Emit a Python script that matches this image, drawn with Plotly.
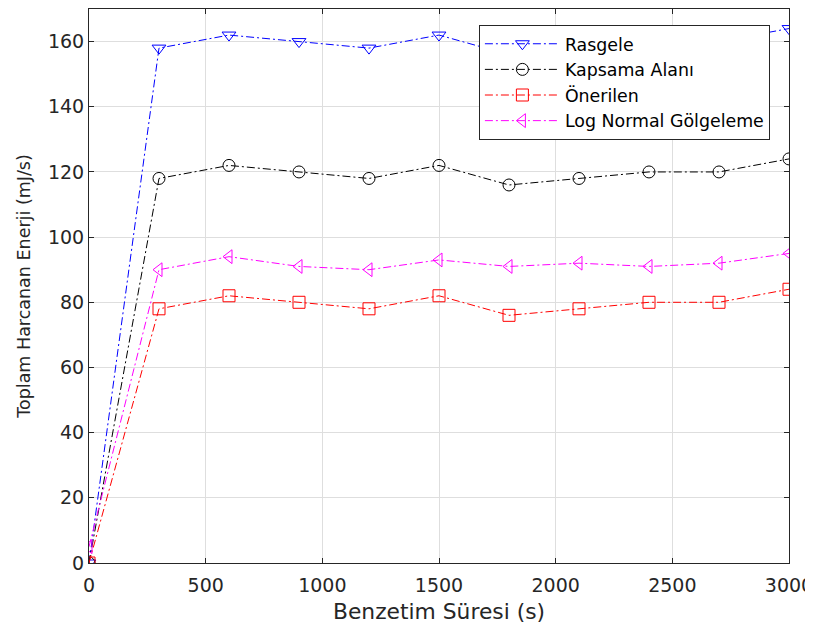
import plotly.graph_objects as go

x_vals = [0, 300, 600, 900, 1200, 1500, 1800, 2100, 2400, 2700, 3000]
rasgele = [0, 158, 162, 160, 158, 162, 156, 158, 160, 160, 164]
kapsama = [0, 118, 122, 120, 118, 122, 116, 118, 120, 120, 124]
onerilen = [0, 78, 82, 80, 78, 82, 76, 78, 80, 80, 84]
lognormal = [5, 90, 94, 91, 90, 93, 91, 92, 91, 92, 95]

names = ["Rasgele", "Kapsama Alanı", "Önerilen", "Log Normal Gölgeleme"]
colors = ["#0000ff", "#000000", "#ff0000", "#ff00ff"]
symbols = ["triangle-down-open", "circle-open", "square-open", "triangle-left-open"]
series = [rasgele, kapsama, onerilen, lognormal]

x_ticks = [0, 500, 1000, 1500, 2000, 2500, 3000]
y_ticks = [0, 20, 40, 60, 80, 100, 120, 140, 160]

FONT = "DejaVu Sans, Liberation Sans, Arial, sans-serif"

fig = go.Figure()
for name, col, sym, ys in zip(names, colors, symbols, series):
    fig.add_trace(go.Scatter(
        x=x_vals, y=ys, name=name, mode="lines+markers",
        line=dict(color=col, width=1, dash="8px,3px,2px,3px"),
        marker=dict(symbol=sym, size=12, color=col, line=dict(color=col, width=1)),
    ))

axis_common = dict(
    showline=True, linecolor="#262626", linewidth=1, mirror="ticks",
    ticks="inside", ticklen=5, tickcolor="#262626",
    showgrid=True, gridcolor="#dedede", gridwidth=1,
    zeroline=False, ticklabeloverflow="allow",
    tickfont=dict(family=FONT, size=19, color="#262626"),
)

fig.update_layout(
    width=805, height=624,
    margin=dict(l=81, r=18, t=0, b=69),
    paper_bgcolor="white", plot_bgcolor="white",
    showlegend=True,
    legend=dict(
        x=0.557, y=0.9712, xanchor="left", yanchor="top",
        bgcolor="white", bordercolor="#262626", borderwidth=1,
        font=dict(family=FONT, size=17.4, color="#000000"),
        tracegroupgap=0, itemwidth=75,
    ),
    xaxis=dict(
        range=[0, 3000], tickvals=x_ticks, ticklabelstandoff=5,
        title=dict(text="Benzetim Süresi (s)", standoff=8,
                   font=dict(family=FONT, size=21.8, color="#262626")),
        **axis_common,
    ),
    yaxis=dict(
        range=[0, 170], tickvals=y_ticks,
        title=dict(text="Toplam Harcanan Enerji (mJ/s)", standoff=12,
                   font=dict(family=FONT, size=17.5, color="#262626")),
        **axis_common,
    ),
)

fig.write_html("out.html")
